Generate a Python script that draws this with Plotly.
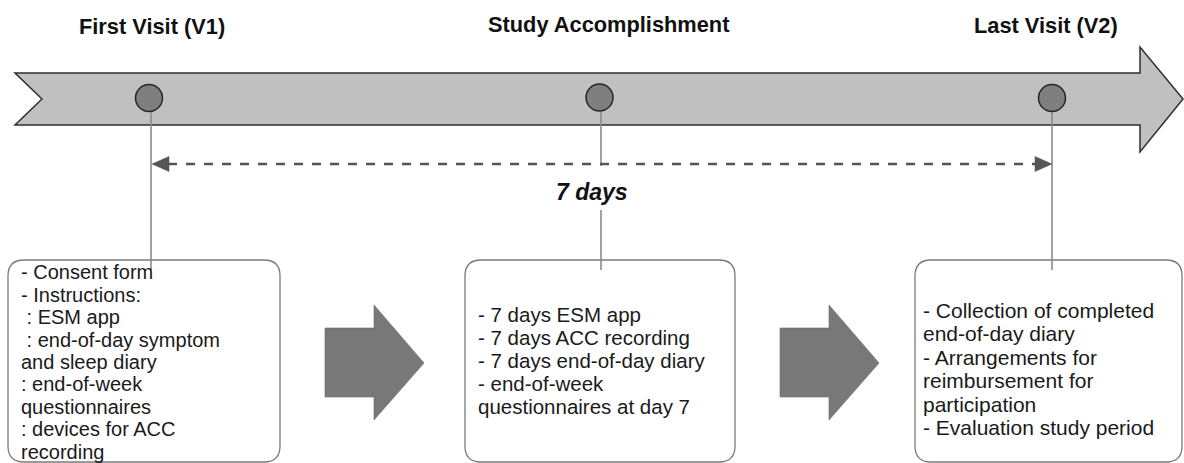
import plotly.graph_objects as go

# ---- content ----
milestone_titles = ["First Visit (V1)", "Study Accomplishment", "Last Visit (V2)"]
duration_label = "7 days"
box1_lines = ["- Consent form", "- Instructions:", " : ESM app", " : end-of-day symptom",
              "and sleep diary", ": end-of-week", "questionnaires", ": devices for ACC",
              "recording"]
box2_lines = ["- 7 days ESM app", "- 7 days ACC recording", "- 7 days end-of-day diary",
              "- end-of-week", "questionnaires at day 7"]
box3_lines = ["- Collection of completed", "end-of-day diary", "- Arrangements for",
              "reimbursement for", "participation", "- Evaluation study period"]

W, H = 1184, 463
FONT = "Liberation Sans, Arial, sans-serif"

fig = go.Figure()
shapes = []
annotations = []


def rrect(x0, y0, x1, y1, r):
    return (f"M {x0+r},{y0} L {x1-r},{y0} Q {x1},{y0} {x1},{y0+r} "
            f"L {x1},{y1-r} Q {x1},{y1} {x1-r},{y1} L {x0+r},{y1} "
            f"Q {x0},{y1} {x0},{y1-r} L {x0},{y0+r} Q {x0},{y0} {x0+r},{y0} Z")


def poly(pts):
    return "M " + " L ".join(f"{x},{y}" for x, y in pts) + " Z"


# big timeline arrow
shapes.append(dict(type="path", xref="x", yref="y",
                   path=poly([(15, 73), (1140, 73), (1140, 47), (1183, 99), (1140, 152),
                              (1140, 125), (15, 125), (42, 99)]),
                   fillcolor="#c0c0c0", line=dict(color="#2e2e2e", width=1.5)))

# boxes
boxes = [(8, 260, 280, 462), (465, 260, 735, 462), (915, 260, 1182, 462)]
for (x0, y0, x1, y1) in boxes:
    shapes.append(dict(type="path", xref="x", yref="y", path=rrect(x0, y0, x1, y1, 16),
                       fillcolor="rgba(0,0,0,0)", line=dict(color="#7a7a7a", width=1.3)))

# vertical connector lines
vcol = "#8a8a8a"
shapes.append(dict(type="line", xref="x", yref="y", x0=151, x1=151, y0=112, y1=270,
                   line=dict(color=vcol, width=1.6)))
shapes.append(dict(type="line", xref="x", yref="y", x0=601, x1=601, y0=112, y1=166,
                   line=dict(color=vcol, width=1.6)))
shapes.append(dict(type="line", xref="x", yref="y", x0=601, x1=601, y0=210, y1=270,
                   line=dict(color=vcol, width=1.6)))
shapes.append(dict(type="line", xref="x", yref="y", x0=1052, x1=1052, y0=112, y1=270,
                   line=dict(color=vcol, width=1.6)))

# dashed double arrow
dcol = "#555555"
shapes.append(dict(type="line", xref="x", yref="y", x0=168, x1=1036, y0=164, y1=164,
                   line=dict(color=dcol, width=2.5, dash="dash")))
shapes.append(dict(type="path", xref="x", yref="y",
                   path=poly([(152, 164), (169, 156.5), (169, 171.5)]),
                   fillcolor=dcol, line=dict(color=dcol, width=0.5)))
shapes.append(dict(type="path", xref="x", yref="y",
                   path=poly([(1052, 164), (1035, 156.5), (1035, 171.5)]),
                   fillcolor=dcol, line=dict(color=dcol, width=0.5)))

# milestone circles
for cx, cy in [(149, 98), (599.5, 97.5), (1052, 98)]:
    shapes.append(dict(type="circle", xref="x", yref="y", x0=cx - 13.5, x1=cx + 13.5,
                       y0=cy - 13.5, y1=cy + 13.5, fillcolor="#7f7f7f",
                       line=dict(color="#262626", width=1.5)))

# block arrows between boxes
for x0 in [325, 780]:
    shapes.append(dict(type="path", xref="x", yref="y",
                       path=poly([(x0, 328), (x0 + 49, 328), (x0 + 49, 305), (x0 + 99, 363),
                                  (x0 + 49, 420), (x0 + 49, 397), (x0, 397)]),
                       fillcolor="#787878", line=dict(color="#6c6c6c", width=0.6)))

# titles
for title, tx, ty in zip(milestone_titles, [152, 608, 1046], [26, 24, 25]):
    annotations.append(dict(x=tx, y=ty, xref="x", yref="y", text=f"<b>{title}</b>",
                            showarrow=False, xanchor="center", yanchor="middle",
                            font=dict(family=FONT, size=21.8, color="#111111")))

annotations.append(dict(x=592, y=192, xref="x", yref="y", text=f"<b><i>{duration_label}</i></b>",
                        showarrow=False, xanchor="center", yanchor="middle",
                        font=dict(family=FONT, size=23, color="#111111")))


def add_lines(lines, x, y_center, step, size):
    y0 = y_center - step * (len(lines) - 1) / 2
    for i, ln in enumerate(lines):
        annotations.append(dict(x=x, y=y0 + i * step, xref="x", yref="y",
                                text=ln.replace(" ", "&nbsp;") if ln.startswith(" ") else ln,
                                showarrow=False, xanchor="left", yanchor="middle",
                                borderpad=0,
                                font=dict(family=FONT, size=size, color="#1a1a1a")))


add_lines(box1_lines, 20, 362, 22.4, 20)
add_lines(box2_lines, 477, 360, 23, 20.5)
add_lines(box3_lines, 922, 369, 23.5, 21)

fig.update_layout(
    width=W, height=H, margin=dict(l=0, r=0, t=0, b=0),
    paper_bgcolor="white", plot_bgcolor="white",
    xaxis=dict(range=[0, W], visible=False, fixedrange=True),
    yaxis=dict(range=[H, 0], visible=False, fixedrange=True),
    shapes=shapes, annotations=annotations, showlegend=False,
)

fig.write_html("out.html", config={"displayModeBar": False},
               post_script="document.body.style.margin='0';document.body.style.overflow='hidden';")
